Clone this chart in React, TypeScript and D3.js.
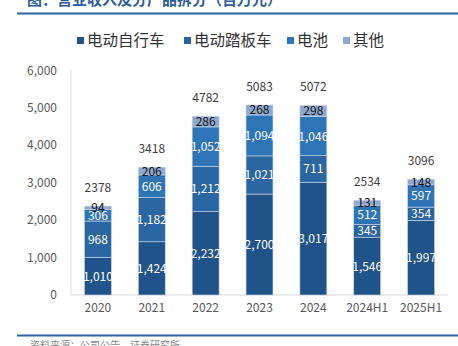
import React from "react";
import * as d3 from "d3";

const categories = ["2020", "2021", "2022", "2023", "2024", "2024H1", "2025H1"];
const seriesNames = ["电动自行车", "电动踏板车", "电池", "其他"];
const eBike = [1010, 1424, 2232, 2700, 3017, 1546, 1997];
const eScooter = [968, 1182, 1212, 1021, 711, 345, 354];
const battery = [306, 606, 1052, 1094, 1046, 512, 597];
const others = [94, 206, 286, 268, 298, 131, 148];
const totals = [2378, 3418, 4782, 5083, 5072, 2534, 3096];
const yTicks = [0, 1000, 2000, 3000, 4000, 5000, 6000];
const colors = ["#1F5389", "#2A66A2", "#2E75B8", "#8FA9CE"];
const labelColors = ["#ffffff", "#ffffff", "#ffffff", "#111111"];

const W = 458;
const H = 346;

export default function App() {
  const x = d3.scaleBand<string>().domain(categories).range([71, 448]).paddingInner(0.5).paddingOuter(0.25);
  const y = d3.scaleLinear().domain([0, 6000]).range([295, 70.7]);
  const fmt = d3.format(",");

  const rows = categories.map((c, i) => ({
    cat: c,
    s0: eBike[i],
    s1: eScooter[i],
    s2: battery[i],
    s3: others[i],
  }));
  const stack = d3.stack<any>().keys(["s0", "s1", "s2", "s3"]);
  const layers = stack(rows);

  const legendX = [77, 184, 287, 343];
  const font = "'Noto Sans CJK SC', 'Liberation Sans', sans-serif";

  return (
    <svg width={W} height={H} style={{ position: "absolute", left: 0, top: 0, background: "#fff" }} fontFamily={font}>
      <text x={27} y={5} fontSize={15} fontWeight={700} fill="#2F5E9E">图：营业收入及分产品拆分（百万元）</text>
      <line x1={17} x2={458} y1={13.5} y2={13.5} stroke="#2F64A0" strokeWidth={2} />

      {seriesNames.map((n, i) => (
        <g key={n}>
          <rect x={legendX[i]} y={37} width={7} height={7} fill={colors[i]} />
          <text x={legendX[i] + 10} y={46} fontSize={15.5} fill="#333">{n}</text>
        </g>
      ))}

      <line x1={71} x2={71} y1={70} y2={295} stroke="#D9D9D9" />
      <line x1={71} x2={448} y1={295} y2={295} stroke="#D9D9D9" />
      {yTicks.map((t) => (
        <text key={t} x={57} y={y(t) + 4} textAnchor="end" fontSize={12} fill="#595959">{fmt(t)}</text>
      ))}
      {categories.map((c) => (
        <text key={c} x={(x(c) as number) + x.bandwidth() / 2} y={312} textAnchor="middle" fontSize={12} fill="#595959">{c}</text>
      ))}

      {layers.map((layer, li) => (
        <g key={li}>
          {layer.map((d, i) => (
            <rect
              key={i}
              x={x(categories[i])}
              y={y(d[1])}
              width={x.bandwidth()}
              height={y(d[0]) - y(d[1])}
              fill={colors[li]}
              stroke="#C9D6E8"
              strokeWidth={0.6}
            />
          ))}
          {layer.map((d, i) => {
            const v = d[1] - d[0];
            const cy = (y(d[0]) + y(d[1])) / 2;
            return (
              <text
                key={"t" + i}
                x={(x(categories[i]) as number) + x.bandwidth() / 2}
                y={cy + 4.5}
                textAnchor="middle"
                fontSize={12}
                fill={labelColors[li]}
              >
                {li === 3 ? String(v) : fmt(v)}
              </text>
            );
          })}
        </g>
      ))}

      {categories.map((c, i) => (
        <text key={"tot" + c} x={(x(c) as number) + x.bandwidth() / 2} y={y(totals[i]) - 14} textAnchor="middle" fontSize={12} fill="#404040">{totals[i]}</text>
      ))}

      <line x1={17} x2={458} y1={335.5} y2={335.5} stroke="#2F64A0" strokeWidth={2} />
      <text x={30} y={349} fontSize={10} fill="#888">资料来源：公司公告，证券研究所</text>
    </svg>
  );
}
